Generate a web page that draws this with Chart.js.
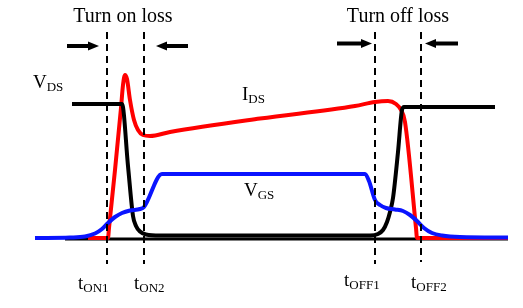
<!DOCTYPE html>
<html>
<head>
<meta charset="utf-8">
<script src="https://cdn.jsdelivr.net/npm/chart.js@4/dist/chart.umd.min.js"></script>
<style>
  html, body { margin: 0; padding: 0; background: #fff; }
  #wrap { width: 523px; height: 308px; }
</style>
</head>
<body>
<div id="wrap"><canvas id="chart"></canvas></div>
<script>
// time (arbitrary units) and amplitude (0 = ground line)
const vdsTime = [72, 122, 128, 133, 136, 140, 146, 160, 370, 378, 383, 387, 390, 393, 398, 402, 404, 495];
const vdsAmp  = [136, 136, 74, 24, 14, 8.5, 5.5, 4.5, 4.5, 6, 10, 18, 28, 42, 88, 130, 133, 133];

const idsTime = [88, 108, 109, 115, 121, 123, 125, 127, 130, 134, 138, 143, 150, 170, 260, 355, 375, 388, 396, 401, 405, 416, 417, 508];
const idsAmp  = [2, 2, 12, 70, 132, 155, 165, 161, 140, 120, 110, 105, 104, 108, 121.5, 134, 138, 139, 136, 130, 118, 12, 2, 2];

const vgsTime = [35, 70, 85, 95, 102, 108, 115, 122, 130, 140, 144, 162, 365, 369, 375, 380, 386, 395, 403, 410, 417, 424, 432, 442, 460, 508];
const vgsAmp  = [2, 2.5, 3.5, 6.5, 11, 17, 23, 27, 29.5, 31, 33, 66, 66, 59, 40, 35, 32, 30.5, 29, 25, 19, 12, 7, 4.5, 3, 2.5];

const groundTime = [65, 508];
const groundAmp = [1, 1];

// switching instants
const markerNames = ['tON1', 'tON2', 'tOFF1', 'tOFF2'];
const markerTime = [107, 144, 375, 421];
const markerTop = [208, 208, 208, 208];
const markerBottom = [-24, -24, -24, -22];

// loss-window arrows
const arrowTail = [67, 188, 337, 458];
const arrowTip = [99, 156, 372, 425];
const arrowLevel = [194, 194, 196.5, 196.5];

const titles = ['Turn on loss', 'Turn off loss'];
const titleAt = [[123, 218], [398, 218]];

const labelMain = ['V', 'I', 'V', 't', 't', 't', 't'];
const labelSub = ['DS', 'DS', 'GS', 'ON1', 'ON2', 'OFF1', 'OFF2'];
const labelAt = [[33, 152], [242, 140], [244, 44], [78, -49], [134, -49], [344, -46], [411, -48]];

const zip = (xs, ys) => xs.map((x, i) => ({ x, y: ys[i] }));
const HEAD = 9;

const datasets = [];

// dashed markers on top
markerTime.forEach((t, i) => {
  datasets.push({
    label: markerNames[i],
    data: [{ x: t, y: markerTop[i] }, { x: t, y: markerBottom[i] }],
    borderColor: '#000',
    borderWidth: 2,
    borderDash: [7, 5],
  });
});

arrowTail.forEach((tail, i) => {
  const dir = Math.sign(arrowTip[i] - tail);
  datasets.push({
    label: 'arrow' + i,
    data: [{ x: tail, y: arrowLevel[i] }, { x: arrowTip[i] - dir * HEAD, y: arrowLevel[i] }],
    borderColor: '#000',
    borderWidth: 4,
    arrowTip: arrowTip[i],
  });
});

datasets.push({
  label: 'VGS',
  data: zip(vgsTime, vgsAmp),
  borderColor: '#0a14ff',
  borderWidth: 4,
  cubicInterpolationMode: 'monotone',
});
datasets.push({
  label: 'VDS',
  data: zip(vdsTime, vdsAmp),
  borderColor: '#000',
  borderWidth: 4,
  cubicInterpolationMode: 'monotone',
});
datasets.push({
  label: 'IDS',
  data: zip(idsTime, idsAmp),
  borderColor: '#ff0000',
  borderWidth: 4,
  cubicInterpolationMode: 'monotone',
});
datasets.push({
  label: 'ground',
  data: zip(groundTime, groundAmp),
  borderColor: '#000',
  borderWidth: 3,
});

// arrow heads, text labels
const annotations = {
  id: 'annotations',
  afterDatasetsDraw(chart) {
    const ctx = chart.ctx;
    const xs = chart.scales.x, ys = chart.scales.y;

    chart.data.datasets.forEach((ds, i) => {
      if (ds.arrowTip === undefined) return;
      const pts = chart.getDatasetMeta(i).data;
      const y = pts[1].y;
      const tip = xs.getPixelForValue(ds.arrowTip);
      const dir = Math.sign(tip - pts[0].x);
      ctx.save();
      ctx.fillStyle = '#000';
      ctx.beginPath();
      ctx.moveTo(tip, y);
      ctx.lineTo(tip - dir * 11, y - 4.5);
      ctx.lineTo(tip - dir * 11, y + 4.5);
      ctx.closePath();
      ctx.fill();
      ctx.restore();
    });

    ctx.save();
    ctx.fillStyle = '#000';
    ctx.textBaseline = 'alphabetic';
    ctx.font = '20px "Liberation Serif"';
    ctx.textAlign = 'center';
    titles.forEach((txt, i) => {
      ctx.fillText(txt, xs.getPixelForValue(titleAt[i][0]), ys.getPixelForValue(titleAt[i][1]));
    });

    ctx.textAlign = 'left';
    labelMain.forEach((m, i) => {
      const x = xs.getPixelForValue(labelAt[i][0]);
      const y = ys.getPixelForValue(labelAt[i][1]);
      ctx.font = '19px "Liberation Serif"';
      ctx.fillText(m, x, y);
      const w = ctx.measureText(m).width;
      ctx.font = '13px "Liberation Serif"';
      ctx.fillText(labelSub[i], x + w, y + 3);
    });
    ctx.restore();
  }
};

new Chart(document.getElementById('chart'), {
  type: 'line',
  data: { datasets },
  options: {
    responsive: true,
    maintainAspectRatio: false,
    animation: false,
    layout: { padding: 0 },
    elements: { point: { radius: 0 }, line: { tension: 0, fill: false } },
    scales: {
      x: { type: 'linear', min: 0, max: 523, display: false },
      y: { type: 'linear', min: -68, max: 240, display: false }
    },
    plugins: { legend: { display: false }, tooltip: { enabled: false } }
  },
  plugins: [annotations]
});
</script>
</body>
</html>
